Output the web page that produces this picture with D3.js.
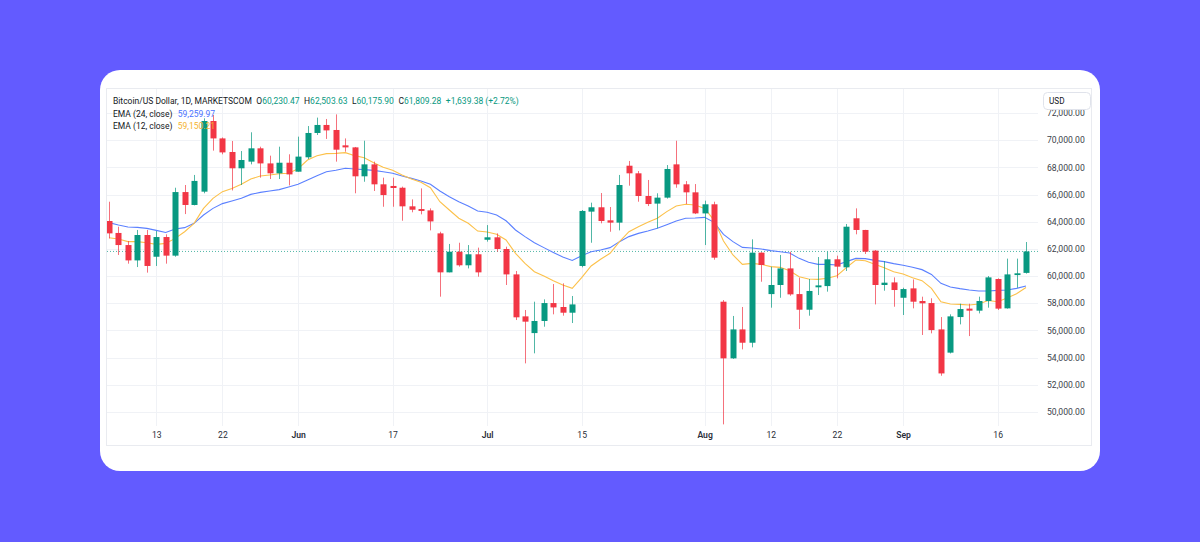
<!DOCTYPE html>
<html><head><meta charset="utf-8">
<script src="https://cdn.jsdelivr.net/npm/d3@7"></script>
<style>html,body{margin:0;padding:0;background:#635bff;} svg{display:block}</style>
</head><body><svg id="c" width="1200" height="542"></svg>
<script>
const dates = [
"2024-05-06","2024-05-07","2024-05-08","2024-05-09","2024-05-10","2024-05-13","2024-05-14","2024-05-15","2024-05-16","2024-05-17",
"2024-05-20","2024-05-21","2024-05-22","2024-05-23","2024-05-24","2024-05-27","2024-05-28","2024-05-29","2024-05-30","2024-05-31",
"2024-06-03","2024-06-04","2024-06-05","2024-06-06","2024-06-07","2024-06-10","2024-06-11","2024-06-12","2024-06-13","2024-06-14",
"2024-06-17","2024-06-18","2024-06-19","2024-06-20","2024-06-21","2024-06-24","2024-06-25","2024-06-26","2024-06-27","2024-06-28",
"2024-07-01","2024-07-02","2024-07-03","2024-07-04","2024-07-05","2024-07-08","2024-07-09","2024-07-10","2024-07-11","2024-07-12",
"2024-07-15","2024-07-16","2024-07-17","2024-07-18","2024-07-19","2024-07-22","2024-07-23","2024-07-24","2024-07-25","2024-07-26",
"2024-07-29","2024-07-30","2024-07-31","2024-08-01","2024-08-02","2024-08-05","2024-08-06","2024-08-07","2024-08-08","2024-08-09",
"2024-08-12","2024-08-13","2024-08-14","2024-08-15","2024-08-19","2024-08-20","2024-08-21","2024-08-22","2024-08-23","2024-08-26",
"2024-08-27","2024-08-28","2024-08-29","2024-08-30","2024-09-02","2024-09-03","2024-09-04","2024-09-05","2024-09-06","2024-09-09",
"2024-09-10","2024-09-11","2024-09-12","2024-09-13","2024-09-16","2024-09-17","2024-09-18","2024-09-19"];

const open = [
64050,63170,62280,61150,63020,61420,62870,61500,66180,65230,
66210,71410,70130,69130,67930,68420,69400,68290,67560,68340,
67680,68740,70530,71120,70750,69620,69470,67340,68220,66750,
66630,66500,65130,64930,64830,63140,60270,61790,60790,61600,
62670,62850,61990,60120,57030,55800,56690,58010,57720,57300,
60740,64740,65060,64100,63930,68120,67560,65890,65330,65770,
68220,66750,66160,64610,65280,58110,53940,56070,55090,61720,
58670,59340,60560,58670,57520,59170,59260,61230,60640,64250,
63390,61870,59340,59530,58400,59090,58160,58010,56070,54360,
56980,57600,57450,58160,59780,57620,60070,60230.47];
const high = [
65470,63630,62580,63390,63390,63310,63070,66500,66700,67440,
71610,71850,70200,69940,69200,70580,69520,68860,69520,68960,
70260,71040,71660,71560,71900,70130,69500,69960,68420,67240,
67240,66580,65640,66450,64980,63260,62360,62450,62280,62090,
63750,63140,62160,60370,57500,58110,58280,59410,59460,58530,
64860,65400,66110,65080,67440,68470,67730,67070,66090,68170,
69960,66990,66770,65550,65470,58230,57060,57720,62700,61750,
60690,61550,61790,59880,59780,61400,61790,61500,63830,64980,
63400,61910,61100,59900,59140,59750,58480,58360,56980,57180,
57960,57960,58480,60000,59830,61280,61280,62503.63];
const low = [
62770,61550,60910,60660,60250,60740,60910,61420,64560,65200,
66090,69230,68960,66300,66700,68220,67240,67140,67140,66670,
67680,68610,70380,70090,68420,69150,66090,66940,66260,65100,
65100,64070,64690,64540,63360,58480,60270,60690,60560,59950,
62530,61790,59340,56760,53570,54310,56270,57180,57080,56540,
60640,62450,63880,63260,63360,66650,65470,65150,63510,65700,
66500,65300,64560,62280,61200,49080,53900,54600,54750,59580,
57670,58400,58550,56100,57080,58600,58850,59830,60370,63070,
61620,57910,58920,57740,57130,57620,55660,55780,52660,54300,
56440,55580,57250,57670,57500,57600,59140,60175.90];
const close = [
63140,62280,61150,63020,60740,62870,61500,66180,65230,67000,
71410,70130,69100,67930,68540,69400,68290,67560,68340,67480,
68790,70530,71120,70720,69300,69470,67340,68220,66750,65960,
66480,65130,64880,64790,64020,60270,61790,60790,61600,60270,
62850,61990,60120,56960,56640,56690,58010,57690,57300,57910,
64790,65060,64050,63930,66700,67560,65890,65300,65770,67880,
66750,66160,64610,65280,61350,53940,56070,55090,61720,60810,
59340,60560,58650,57520,58900,59310,61230,60690,63630,63390,
61790,59340,59510,58970,59040,58110,57990,56020,52830,57030,
57570,57450,58160,59900,57600,60120,60200,61809.28];

const ema24 = [
63930,63750,63610,63580,63510,63360,63210,63460,63560,63880,
64490,64980,65330,65520,65720,66010,66160,66260,66360,66550,
66750,67070,67390,67680,67780,67930,67880,67830,67780,67680,
67560,67360,67190,66990,66750,66260,65840,65470,65150,64790,
64690,64490,64070,63390,62900,62450,62090,61740,61400,61150,
61500,61790,61910,62090,62530,62900,63140,63310,63510,63780,
64050,64250,64270,64320,63950,63070,62530,62110,62060,61990,
61870,61790,61690,61300,61010,60860,60860,60810,61060,61300,
61280,61150,61060,60910,60790,60640,60470,60120,59460,59190,
59070,58970,58900,58900,58940,58970,59090,59259.97];
const ema12 = [
62820,62720,62530,62530,62450,62330,62400,62770,63260,63880,
64980,65720,66210,66450,66750,67140,67360,67440,67530,67560,
67900,68540,68860,69010,69030,69080,68860,68710,68340,68000,
67780,67440,67140,66900,66500,65470,64860,64250,63880,63310,
63240,63070,62650,61670,60930,60320,60000,59660,59340,59090,
59880,60740,61230,61670,62530,63260,63630,63950,64250,64740,
65150,65280,65230,64980,64120,62580,61550,60860,60930,60860,
60690,60640,60390,59950,59780,59750,59830,60020,60620,61180,
61130,60860,60610,60320,60150,59880,59660,59090,58100,57940,
57910,57870,57940,58200,58110,58380,58700,59150.21];

const tickDates = ["2024-05-13","2024-05-22","2024-06-03","2024-06-17","2024-07-01","2024-07-15","2024-08-01","2024-08-12","2024-08-22","2024-09-02","2024-09-16"];
const tickLabels = ["13","22","Jun","17","Jul","15","Aug","12","22","Sep","16"];
const monthLabels = ["Jun","Jul","Aug","Sep"];
const priceTicks = [50000,52000,54000,56000,58000,60000,62000,64000,66000,68000,70000,72000];

const titleText = "Bitcoin/US Dollar, 1D, MARKETSCOM";
const ohlcLabels = ["O","H","L","C"];
const ohlcValues = ["60,230.47","62,503.63","60,175.90","61,809.28"];
const changeText = "+1,639.38 (+2.72%)";
const emaLabels = ["EMA (24, close)","EMA (12, close)"];
const emaValues = ["59,259.97","59,150.21"];

const UP = "#089981", DOWN = "#f23645", BLUE = "#5b80ff", YEL = "#fcc14a";
const FONT = "Roboto, 'Noto Sans', sans-serif";
const L = 107, R = 1038, T = 89, B = 426;

const svg = d3.select("#c");
svg.append("rect").attr("x",100).attr("y",70).attr("width",1000).attr("height",401).attr("rx",20).attr("fill","#fff");
svg.append("rect").attr("x",106.5).attr("y",88.5).attr("width",985).attr("height",357).attr("fill","none").attr("stroke","#e9ebf0");

const x = d3.scalePoint().domain(dates).range([109, 1026]);
const y = d3.scaleLinear().domain([48960, 73767]).range([B, T]);

svg.append("defs").append("clipPath").attr("id","clip").append("rect")
  .attr("x",L).attr("y",T).attr("width",R-L).attr("height",B-T);

// grid
const grid = svg.append("g");
grid.selectAll("line.h").data(priceTicks).join("line")
  .attr("x1",L).attr("x2",R).attr("y1",d=>Math.round(y(d))+0.5).attr("y2",d=>Math.round(y(d))+0.5)
  .attr("stroke","#f0f2f6");
grid.selectAll("line.v").data(tickDates).join("line")
  .attr("x1",d=>Math.round(x(d))+0.5).attr("x2",d=>Math.round(x(d))+0.5).attr("y1",T).attr("y2",B)
  .attr("stroke","#f0f2f6");

// axes
const ya = svg.append("g").attr("transform",`translate(${R},0)`)
  .call(d3.axisRight(y).tickValues(priceTicks).tickFormat(d3.format(",.2f")).tickSize(0).tickPadding(9));
ya.select(".domain").remove();
ya.selectAll("text").attr("font-family",FONT).attr("font-size",8.6).attr("fill","#3b3f4a");

const xa = svg.append("g").attr("transform",`translate(0,${B})`)
  .call(d3.axisBottom(x).tickValues(tickDates).tickFormat((d,i)=>tickLabels[i]).tickSize(0).tickPadding(6));
xa.select(".domain").remove();
xa.selectAll("text").attr("font-family",FONT).attr("font-size",8.6).attr("fill","#2a2e39")
  .attr("font-weight",(d,i)=>monthLabels.includes(tickLabels[i])?600:400);

// plot
const plot = svg.append("g").attr("clip-path","url(#clip)");
const idx = d3.range(dates.length);

plot.append("line").attr("x1",L).attr("x2",R+3).attr("y1",y(close[close.length-1])).attr("y2",y(close[close.length-1]))
  .attr("stroke",UP).attr("stroke-dasharray","1,2").attr("opacity",0.7);

const line = arr => d3.line().x((d,i)=>x(dates[i])).y(d=>y(d))(arr);
plot.append("path").attr("d",line(ema24)).attr("fill","none").attr("stroke",BLUE).attr("stroke-width",1.1);
plot.append("path").attr("d",line(ema12)).attr("fill","none").attr("stroke",YEL).attr("stroke-width",1.1);

const col = i => close[i] >= open[i] ? UP : DOWN;
plot.selectAll("line.wick").data(idx).join("line")
  .attr("x1",i=>Math.round(x(dates[i]))+0.5).attr("x2",i=>Math.round(x(dates[i]))+0.5)
  .attr("y1",i=>y(high[i])).attr("y2",i=>y(low[i]))
  .attr("stroke",col).attr("stroke-width",1).attr("opacity",0.7);
plot.selectAll("rect.body").data(idx).join("rect")
  .attr("x",i=>Math.round(x(dates[i]))-2.5).attr("width",6)
  .attr("y",i=>y(Math.max(open[i],close[i])))
  .attr("height",i=>Math.max(1,Math.abs(y(open[i])-y(close[i]))))
  .attr("fill",col);

// legend
const lg = svg.append("g").attr("font-family",FONT).attr("font-size",8.5);
const t1 = lg.append("text").attr("x",113).attr("y",104).attr("fill","#131722");
t1.append("tspan").text(titleText);
ohlcLabels.forEach((l,i)=>{
  t1.append("tspan").attr("dx", 4.5).text(l);
  t1.append("tspan").attr("fill",UP).text(ohlcValues[i]);
});
t1.append("tspan").attr("dx",4.5).attr("fill",UP).text(changeText);
emaLabels.forEach((l,i)=>{
  const t = lg.append("text").attr("x",113).attr("y",116.5+i*12.3).attr("fill","#131722");
  t.append("tspan").text(l);
  t.append("tspan").attr("x",177.7).attr("fill",i===0?"#4a72ff":"#f5b330").text(emaValues[i]);
});

// currency box
svg.append("rect").attr("x",1043.5).attr("y",92.5).attr("width",47).attr("height",17).attr("rx",4)
  .attr("fill","#fff").attr("stroke","#e0e3eb");
svg.append("text").attr("x",1049).attr("y",104).attr("font-family",FONT).attr("font-size",8.2)
  .attr("fill","#131722").text("USD");
</script></body></html>
